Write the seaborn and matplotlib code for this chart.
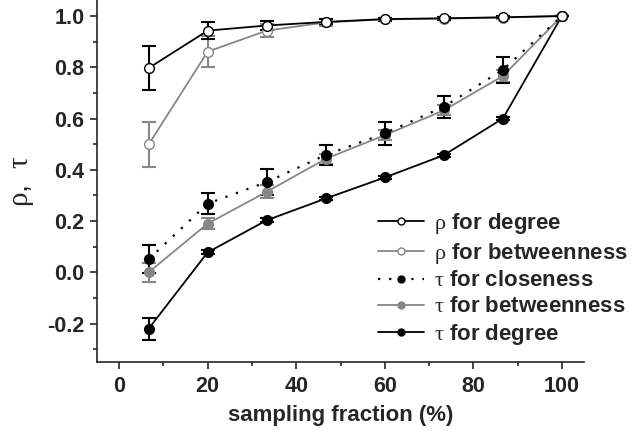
import matplotlib
matplotlib.use("Agg")
import matplotlib.pyplot as plt
import seaborn as sns
import numpy as np
from matplotlib.lines import Line2D
from matplotlib.ticker import MultipleLocator

fraction = [6.67, 20, 33.33, 46.67, 60, 73.33, 86.67, 100]

rho_degree = [0.797, 0.943, 0.963, 0.977, 0.988, 0.991, 0.995, 1.0]
rho_degree_err = [0.087, 0.032, 0.018, 0.010, 0.006, 0.005, 0.004, 0.0]
rho_betw = [0.499, 0.861, 0.943, 0.975, 0.987, 0.990, 0.994, 1.0]
rho_betw_err = [0.088, 0.060, 0.025, 0.012, 0.007, 0.005, 0.004, 0.0]
tau_close = [0.051, 0.268, 0.352, 0.458, 0.542, 0.646, 0.790, 1.0]
tau_close_err = [0.055, 0.042, 0.052, 0.040, 0.045, 0.042, 0.052, 0.0]
tau_betw = [0.0, 0.19, 0.314, 0.443, 0.535, 0.632, 0.766, 1.0]
tau_betw_err = [0.037, 0.020, 0.025, 0.020, 0.020, 0.020, 0.025, 0.0]
tau_degree = [-0.22, 0.078, 0.203, 0.288, 0.370, 0.457, 0.600, 1.0]
tau_degree_err = [0.043, 0.008, 0.008, 0.006, 0.006, 0.006, 0.006, 0.0]

labels = [r"$\rho$ for degree", r"$\rho$ for betweenness", r"$\tau$ for closeness",
          r"$\tau$ for betweenness", r"$\tau$ for degree"]

sns.set_style("ticks")
plt.rcParams["font.family"] = ["Liberation Sans", "DejaVu Sans"]
plt.rcParams["font.weight"] = "normal"
plt.rcParams["mathtext.fontset"] = "custom"
plt.rcParams["mathtext.it"] = "Liberation Serif:weight=normal:style=normal"
plt.rcParams["mathtext.rm"] = "Liberation Serif:weight=normal:style=normal"
plt.rcParams["axes.unicode_minus"] = False

BLACK = "#000000"
GREY = "#878787"

fig = plt.figure(figsize=(6.44, 4.34), dpi=100)
ax = fig.add_axes([97 / 644, 72 / 434, 487 / 644, 362 / 434])

series = [
    (tau_degree, tau_degree_err, BLACK, BLACK, "-"),
    (tau_betw, tau_betw_err, GREY, GREY, "-"),
    (tau_close, tau_close_err, BLACK, BLACK, (0, (1, 4))),
    (rho_betw, rho_betw_err, GREY, "white", "-"),
    (rho_degree, rho_degree_err, BLACK, "white", "-"),
]

for z, (vals, errs, col, face, ls) in enumerate(series):
    ax.errorbar(fraction, vals, yerr=errs, fmt="none", ecolor=col,
                elinewidth=1.5, capsize=5, capthick=1.5, zorder=2 + z * 0.1)
for z, (vals, errs, col, face, ls) in enumerate(series):
    sns.lineplot(x=fraction, y=vals, ax=ax, color=col, linestyle=ls,
                 linewidth=1.6 if ls != "-" else 1.3,
                 marker="o", markersize=7, markerfacecolor=face,
                 markeredgecolor=col, markeredgewidth=1.0,
                 errorbar=None, zorder=3 + z * 0.1, clip_on=False)

ax.set_xlim(-5, 105)
ax.set_ylim(-0.35, 1.0625)
ax.xaxis.set_major_locator(MultipleLocator(20))
ax.xaxis.set_minor_locator(MultipleLocator(10))
ax.yaxis.set_minor_locator(MultipleLocator(0.1))
ax.set_yticks(np.arange(-0.2, 1.01, 0.2))
ax.set_yticklabels([f"{v:.1f}" for v in np.arange(-0.2, 1.01, 0.2)])
ax.tick_params(which="major", direction="out", length=5, width=1.2,
               labelsize=15.5, pad=4)
ax.tick_params(axis="x", which="major", pad=5)
ax.tick_params(which="minor", direction="out", length=3, width=1.2)
for lab in ax.get_xticklabels() + ax.get_yticklabels():
    lab.set_fontweight("bold")

sns.despine(ax=ax)
for s in ["left", "bottom"]:
    ax.spines[s].set_linewidth(1.2)

ax.set_xlabel("sampling fraction (%)", fontsize=16, fontweight="bold", labelpad=6)
ax.set_ylabel(r"$\rho$,  $\tau$", fontsize=21, fontweight="normal", labelpad=8)

handles = []
for vals, errs, col, face, ls in series[::-1]:
    handles.append(Line2D([], [], color=col, linestyle=ls,
                          linewidth=1.6 if ls != "-" else 1.3,
                          marker="o", markersize=5, markerfacecolor=face,
                          markeredgecolor=col))
leg = ax.legend(handles, labels, loc="upper left",
                bbox_to_anchor=(0.577, 0.418), frameon=False,
                prop={"weight": "bold", "size": 16},
                handlelength=2.05, handletextpad=0.45, labelspacing=0.22,
                borderpad=0, borderaxespad=0)

fig.savefig("out.png", dpi=100)
